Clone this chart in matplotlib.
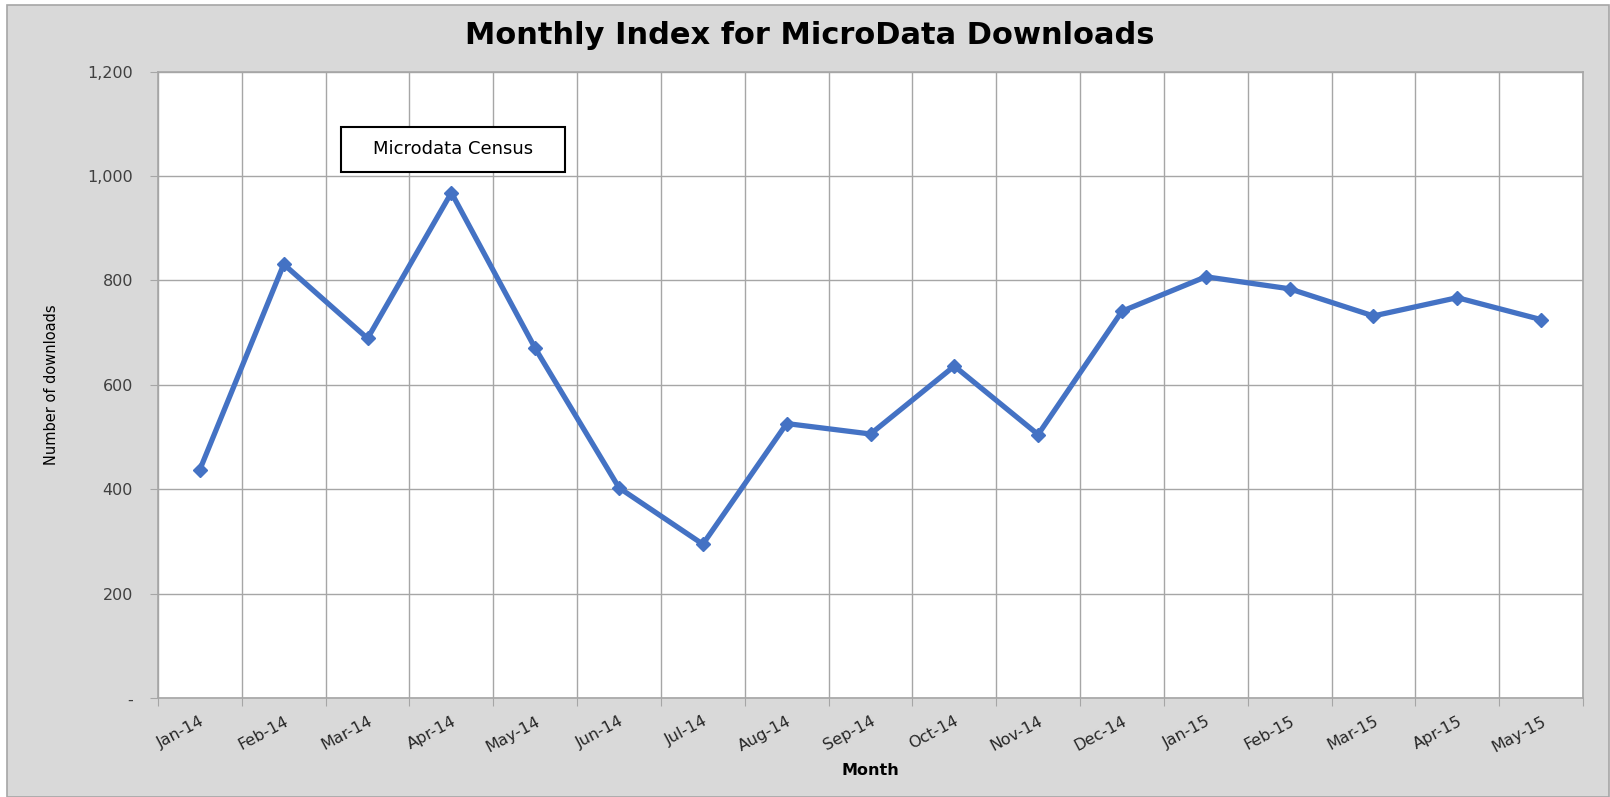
import matplotlib
matplotlib.use("Agg")
from matplotlib import pyplot as plt
from matplotlib.patches import Rectangle
from matplotlib.ticker import FuncFormatter

months = ['Jan-14', 'Feb-14', 'Mar-14', 'Apr-14', 'May-14', 'Jun-14', 'Jul-14', 'Aug-14',
          'Sep-14', 'Oct-14', 'Nov-14', 'Dec-14', 'Jan-15', 'Feb-15', 'Mar-15', 'Apr-15', 'May-15']
downloads = [438, 831, 689, 968, 670, 403, 295, 526, 506, 636, 505, 741, 807, 784, 732, 767, 725]
y_ticks = [0, 200, 400, 600, 800, 1000, 1200]

fig = plt.figure(figsize=(16.1, 7.97), dpi=100, facecolor='white')
# grey chart area with a thin border, like the spreadsheet chart
bg = Rectangle((7 / 1610, 0), 1602 / 1610, 792 / 797, transform=fig.transFigure,
               facecolor='#d9d9d9', edgecolor='#a6a6a6', linewidth=1.2, zorder=-10)
fig.add_artist(bg)

ax = fig.add_axes([158 / 1610, 1 - 698.3 / 797, 1425 / 1610, 626.8 / 797])
ax.set_facecolor('white')

x = list(range(len(months)))
ax.plot(x, downloads, color='#4472C4', linewidth=3.8, marker='D', markersize=7,
        markeredgecolor='#4472C4', zorder=3)

ax.set_xlim(-0.5, len(months) - 0.5)
ax.set_ylim(0, 1200)

# gridlines sit between the months, labels at the month centres
ax.set_xticks([i - 0.5 for i in range(len(months) + 1)])
ax.set_xticklabels([])
ax.set_xticks(x, minor=True)
ax.set_xticklabels(months, minor=True, rotation=28, ha='right', rotation_mode='anchor',
                   fontsize=11.5, color='#262626')
ax.tick_params(axis='x', which='major', length=6, color='#a6a6a6')
ax.tick_params(axis='x', which='minor', length=0, pad=11)

ax.set_yticks(y_ticks)
ax.yaxis.set_major_formatter(FuncFormatter(lambda v, p: '-' if v == 0 else f'{int(v):,}'))
ax.tick_params(axis='y', length=6, color='#a6a6a6', labelsize=11.5, labelcolor='#404040', pad=12)

ax.grid(True, which='major', color='#a6a6a6', linewidth=1)
ax.set_axisbelow(True)
for s in ax.spines.values():
    s.set_color('#a6a6a6')
    s.set_linewidth(1.2)

ax.set_xlabel('Month', fontsize=11.5, fontweight='bold', labelpad=6)
ax.set_ylabel('Number of downloads', fontsize=10.5, labelpad=20)

fig.text(0.503, 1 - 36 / 797, 'Monthly Index for MicroData Downloads', ha='center', va='center',
         fontsize=22, fontweight='bold')

# text box annotation
ax.add_patch(Rectangle((1.68, 1007), 2.67, 86, facecolor='white', edgecolor='black',
                       linewidth=1.5, zorder=4))
ax.text(1.68 + 2.67 / 2, 1052, 'Microdata Census', ha='center', va='center', fontsize=13,
        zorder=5)

fig.savefig('out.png', dpi=100, facecolor=fig.get_facecolor())
